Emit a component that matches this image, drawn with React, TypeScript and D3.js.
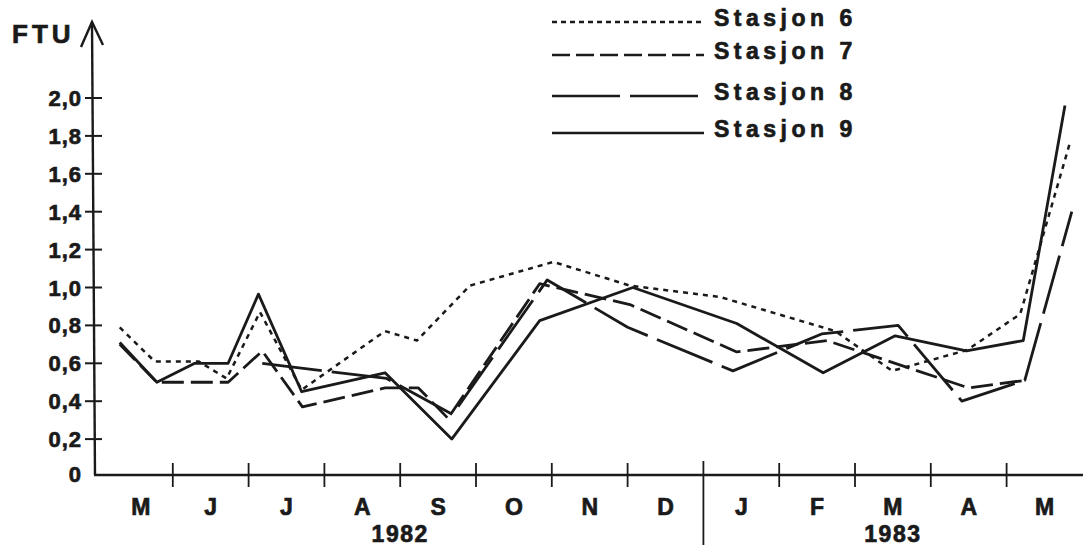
import React from "react";
import * as d3 from "d3";

// ---- data (x = months since 1 May 1982, y = FTU) ----
const monthLabels = ["M", "J", "J", "A", "S", "O", "N", "D", "J", "F", "M", "A", "M"];
const yearLabels = ["1982", "1983"];
const yearSpans = [[0, 8], [8, 13]];
const yTickValues = [0, 0.2, 0.4, 0.6, 0.8, 1.0, 1.2, 1.4, 1.6, 1.8, 2.0];
const yTickLabels = ["0", "0,2", "0,4", "0,6", "0,8", "1,0", "1,2", "1,4", "1,6", "1,8", "2,0"];

const st6T = [0.30, 0.76, 1.34, 1.71, 2.15, 2.70, 3.80, 4.22, 4.92, 6.02, 7.03, 8.22, 9.74, 10.49, 11.48, 12.18, 12.84];
const st6V = [0.79, 0.61, 0.61, 0.52, 0.87, 0.46, 0.77, 0.72, 1.01, 1.135, 1.01, 0.95, 0.77, 0.56, 0.67, 0.86, 1.77];

const st7T = [0.30, 0.79, 1.73, 2.18, 2.71, 3.80, 4.24, 4.63, 5.84, 7.03, 8.44, 9.63, 11.50, 12.24];
const st7V = [0.70, 0.50, 0.50, 0.665, 0.37, 0.47, 0.47, 0.31, 1.02, 0.91, 0.66, 0.72, 0.47, 0.51];

const st8T = [2.18, 3.82, 4.69, 5.94, 7.0, 8.39, 9.56, 10.57, 11.41, 12.24, 12.86];
const st8V = [0.60, 0.52, 0.33, 1.04, 0.79, 0.56, 0.755, 0.80, 0.40, 0.51, 1.40];

const st9T = [0.30, 0.79, 1.29, 1.73, 2.13, 2.70, 3.80, 4.68, 5.84, 7.07, 8.44, 9.58, 10.53, 11.47, 12.22, 12.77];
const st9V = [0.71, 0.50, 0.60, 0.60, 0.965, 0.45, 0.55, 0.20, 0.825, 1.0, 0.81, 0.55, 0.745, 0.665, 0.72, 1.96];

const seriesNames = ["Stasjon 6", "Stasjon 7", "Stasjon 8", "Stasjon 9"];
const seriesT = [st6T, st7T, st8T, st9T];
const seriesV = [st6V, st7V, st8V, st9V];
const seriesDash = ["5 5", "22 7", "60 10", "none"];
const legendDash = ["5 4", "18 6", "68 10", "none"];

const INK = "#1a1a1a";
const FONT = "'Liberation Sans', Arial, Helvetica, sans-serif";

export default function App() {
  const W = 1083;
  const H = 549;
  const x = d3.scaleLinear().domain([0, 13]).range([97, 1082.4]);
  const y = d3.scaleLinear().domain([0, 2]).range([477, 98]);
  const axisX = 94;
  const axisY = y(0) - 2;

  const line = d3
    .line<[number, number]>()
    .x((d) => x(d[0]))
    .y((d) => y(d[1]));

  const legendX0 = 552;
  const legendX1 = 704;
  const legendTextX = 714;
  const legendBase = [26, 59, 100, 137];

  const heavy = { stroke: INK, strokeWidth: 0.7 };

  return (
    <svg
      width={W}
      height={H}
      style={{ position: "absolute", left: 0, top: 0, background: "#fff" }}
      fontFamily={FONT}
    >
      <rect x={0} y={0} width={W} height={H} fill="#fff" />

      {/* Y axis with arrow */}
      <line x1={axisX + 1} y1={axisY} x2={axisX - 2} y2={22} stroke={INK} strokeWidth={2.4} />
      <polyline
        points={`${axisX - 13},${47} ${axisX - 2},${22} ${axisX + 9},${45}`}
        fill="none"
        stroke={INK}
        strokeWidth={2.4}
      />
      <text x={12} y={43} fontSize={26} fontWeight="bold" letterSpacing={4} fill={INK} {...heavy}>
        FTU
      </text>

      {yTickValues.map((v, i) => (
        <g key={"yt" + i}>
          {i > 0 && (
            <line x1={85} x2={102} y1={y(v)} y2={y(v)} stroke={INK} strokeWidth={2} />
          )}
          <text
            x={82}
            y={i === 0 ? axisY + 7 : y(v) + 8}
            fontSize={22}
            fontWeight="bold"
            letterSpacing={1}
            textAnchor="end"
            fill={INK}
            {...heavy}
          >
            {yTickLabels[i]}
          </text>
        </g>
      ))}

      {/* X axis */}
      <line x1={axisX} x2={W} y1={axisY} y2={axisY} stroke={INK} strokeWidth={2.6} />
      {d3.range(1, 13).map((m) =>
        m === 8 ? (
          <line key={"xt" + m} x1={x(m)} x2={x(m)} y1={axisY - 14} y2={545} stroke={INK} strokeWidth={1.8} />
        ) : (
          <line key={"xt" + m} x1={x(m)} x2={x(m)} y1={axisY - 12} y2={axisY + 12} stroke={INK} strokeWidth={1.8} />
        )
      )}
      {monthLabels.map((lab, i) => (
        <text
          key={"ml" + i}
          x={x(i + 0.5) + (i === 0 ? 6 : 0)}
          y={515}
          fontSize={23}
          fontWeight="bold"
          textAnchor="middle"
          fill={INK}
          {...heavy}
        >
          {lab}
        </text>
      ))}
      {yearLabels.map((lab, i) => (
        <text
          key={"yl" + i}
          x={x((yearSpans[i][0] + yearSpans[i][1]) / 2)}
          y={542}
          fontSize={23}
          fontWeight="bold"
          letterSpacing={1.5}
          textAnchor="middle"
          fill={INK}
          {...heavy}
        >
          {lab}
        </text>
      ))}

      {/* Data lines */}
      {seriesNames.map((name, si) => {
        const pts = seriesT[si].map((t, k) => [t, seriesV[si][k]] as [number, number]);
        return (
          <path
            key={"s" + si}
            d={line(pts) || ""}
            fill="none"
            stroke={INK}
            strokeWidth={si === 0 ? 2.5 : 2.8}
            strokeDasharray={seriesDash[si]}
            strokeLinejoin="round"
          />
        );
      })}

      {/* Legend */}
      {seriesNames.map((name, si) => (
        <g key={"lg" + si}>
          <line
            x1={legendX0}
            x2={legendX1}
            y1={legendBase[si] - 4}
            y2={legendBase[si] - 4}
            stroke={INK}
            strokeWidth={2.5}
            strokeDasharray={legendDash[si]}
          />
          <text
            x={legendTextX}
            y={legendBase[si]}
            fontSize={23}
            fontWeight="bold"
            letterSpacing={4.5}
            fill={INK}
            {...heavy}
          >
            {name}
          </text>
        </g>
      ))}
    </svg>
  );
}
